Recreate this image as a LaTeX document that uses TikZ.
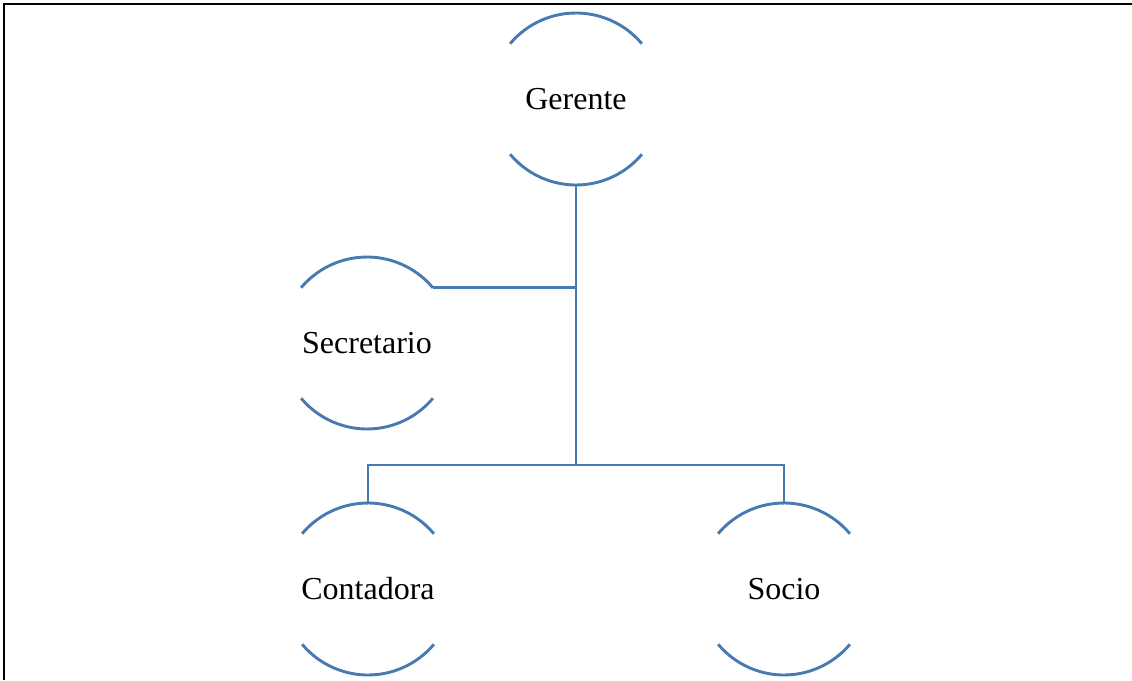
\documentclass[tikz,border=0pt]{standalone}
\usepackage{fontspec}
\setmainfont{Liberation Serif}
\usepackage{tikz}
\usetikzlibrary{positioning}

\definecolor{orgblue}{RGB}{70,122,176}

\begin{document}
\begin{tikzpicture}
[
    x=1pt, y=1pt,
    % The units are named after their position: ger, sec, con, soc
    % Each unit is an undrawn circle; only its top and bottom arcs are drawn
]

%=================================== Start ===================================
\tikzstyle{unit}    = [circle, minimum size=172pt, inner sep=0pt, outer sep=0pt,
                       font=\fontsize{32}{38}\selectfont]
\tikzstyle{arcline} = [draw=orgblue, line width=2.9pt]
\tikzstyle{link}    = [draw=orgblue, line width=2.9pt]
\tikzstyle{frame}   = [draw=black, line width=2.2pt]

\useasboundingbox (0,0) rectangle (1132,-680);

% page frame (cut off at the bottom and right)
\draw[frame] (4,-680) -- (4,-4) -- (1132,-4);

{
    % Draw units
    \foreach \name / \x / \y / \txt in {ger/576/99/Gerente, sec/367/343/Secretario,
                                       con/368/589/Contadora, soc/784/589/Socio}
        \node[unit] (\name) at (\x,-\y) {\txt};

    % top and bottom arcs of every unit
    \foreach \name in {ger, sec, con, soc} {
        \draw[arcline] (\name.40) arc[start angle=40, end angle=140, radius=86pt];
        \draw[arcline] (\name.220) arc[start angle=220, end angle=320, radius=86pt];
    }

    % junction on the trunk
    \coordinate (jn) at (ger.south |- 0,-465);

    % Connect units
    \path[link] (ger.south) -- (jn);
    \path[link] (sec.40) -- (sec.40 -| ger.south);
    \path[link] (con.north) |- (jn) -| (soc.north);
}
%==================================== END ====================================

\end{tikzpicture}
\end{document}
